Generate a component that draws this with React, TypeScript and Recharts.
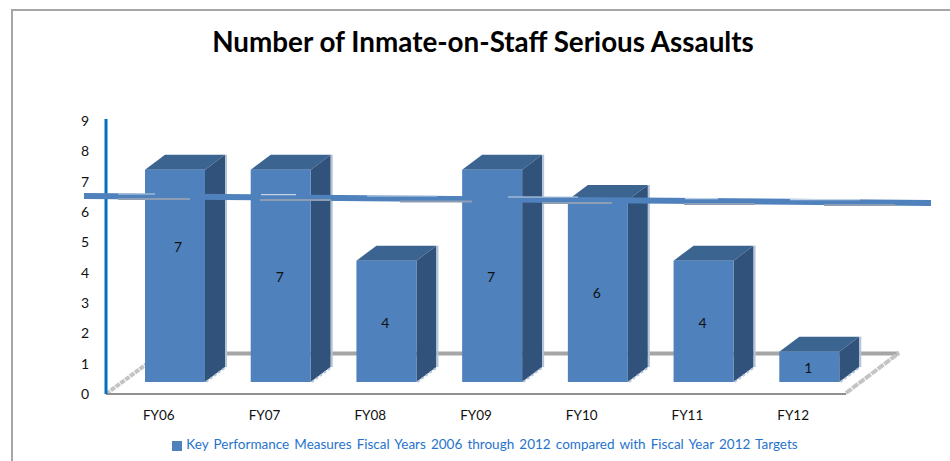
import { BarChart, Bar, XAxis, YAxis, Legend, LabelList } from "recharts";

const categories = ["FY06", "FY07", "FY08", "FY09", "FY10", "FY11", "FY12"];
const assaults = [7, 7, 4, 7, 6, 4, 1];
const yTicks = [0, 1, 2, 3, 4, 5, 6, 7, 8, 9];
// the target line leans a little in the original, so it has a start and an end level
const targetLevels = [6.53, 6.3];

const data = categories.map((name, i) => ({ name, assaults: assaults[i] }));

const TITLE = "Number of Inmate-on-Staff Serious Assaults";
const LEGEND = "Key Performance Measures Fiscal Years 2006 through 2012 compared with Fiscal Year 2012 Targets";

const W = 950;
const H = 461;
const PLOT_TOP = 121;
const PLOT_BOTTOM = 394;
const PLOT_LEFT = 106;
const PLOT_RIGHT = 846;
const YMAX = 9;

// fake 3d
const SHIFT_X = 16;
const SHIFT_Y = -12;
const DEPTH_X = 20;
const DEPTH_Y = -15;

const FRONT = "#4f81bd";
const TOP = "#3c6491";
const SIDE = "#31527a";
const EDGE = "#b3c3d8";
const FLOOR = "#a6a6a6";

const valueY = (v: number) => PLOT_BOTTOM - ((PLOT_BOTTOM - PLOT_TOP) * v) / YMAX;

function Bar3D(props: any) {
  const x = props.x + SHIFT_X;
  const y = props.y + SHIFT_Y;
  const w = props.width;
  const h = props.height;
  const r = x + w;
  const b = y + h;
  return (
    <g>
      <polygon points={`${x},${y} ${r},${y} ${r + DEPTH_X},${y + DEPTH_Y} ${x + DEPTH_X},${y + DEPTH_Y}`} fill={TOP} />
      <polygon points={`${r},${y} ${r + DEPTH_X},${y + DEPTH_Y} ${r + DEPTH_X},${b + DEPTH_Y} ${r},${b}`} fill={SIDE} />
      <line x1={r + DEPTH_X + 1} y1={y + DEPTH_Y} x2={r + DEPTH_X + 1} y2={b + DEPTH_Y} stroke={EDGE} strokeWidth={2} />
      <line x1={r + 1} y1={b} x2={r + DEPTH_X + 1} y2={b + DEPTH_Y} stroke={EDGE} strokeWidth={2} strokeDasharray="3 2" />
      <rect x={x} y={y} width={w} height={h} fill={FRONT} />
    </g>
  );
}

function BarValue(props: any) {
  const { x, y, width, height, value, index } = props;
  // first label sits higher than the rest in the source picture
  const nudge = index === 0 ? -30 : 0;
  const nudgeX = index === 0 ? 3 : -1;
  return (
    <text
      x={x + SHIFT_X + width / 2 + nudgeX}
      y={y + SHIFT_Y + height / 2 + nudge + 1}
      textAnchor="middle"
      dominantBaseline="central"
      fontSize={14}
      fill="#111"
      fontFamily="Lato"
    >
      {value}
    </text>
  );
}

function Floor() {
  return (
    <g>
      <line x1={180} y1={353.5} x2={899} y2={353.5} stroke={FLOOR} strokeWidth={4} />
      <line x1={PLOT_LEFT} y1={394} x2={PLOT_LEFT + 42} y2={363} stroke="#c4c4c4" strokeWidth={4} strokeDasharray="5 1" />
      <line x1={PLOT_RIGHT} y1={393} x2={899} y2={353} stroke="#c4c4c4" strokeWidth={4} strokeDasharray="7 1" />
      <line x1={PLOT_LEFT} y1={394} x2={PLOT_RIGHT} y2={394} stroke="#909090" strokeWidth={2} />
      <line x1={PLOT_LEFT} y1={119} x2={PLOT_LEFT} y2={394} stroke="#0070c0" strokeWidth={3} />
    </g>
  );
}

// separate svg on top, bars would otherwise cover the line
function TargetLine() {
  return (
    <svg width={W} height={H} style={{ position: "absolute", left: 0, top: 0, pointerEvents: "none" }}>
      <line x1={84} y1={valueY(targetLevels[0])} x2={931} y2={valueY(targetLevels[1])} stroke={FRONT} strokeWidth={6} />
      <g stroke="#c3d3e6" strokeWidth={1.2}>
        <line x1={118} y1={194} x2={155} y2={194} />
        <line x1={261} y1={194.6} x2={296} y2={194.6} />
        <line x1={367} y1={196} x2={437} y2={196} />
        <line x1={508} y1={197} x2={578} y2={197} />
        <line x1={685} y1={198.6} x2={718} y2={198.6} />
        <line x1={790} y1={199.6} x2={860} y2={199.6} />
      </g>
      <g stroke="#8d9db3" strokeWidth={2}>
        <line x1={118} y1={199} x2={190} y2={199} />
        <line x1={260} y1={200} x2={331} y2={200} />
        <line x1={400} y1={201.5} x2={472} y2={201.5} />
        <line x1={542} y1={203} x2={612} y2={203} />
        <line x1={684} y1={204} x2={755} y2={204} />
        <line x1={824} y1={205} x2={895} y2={205} />
      </g>
    </svg>
  );
}

export default function App() {
  return (
    <div style={{ position: "absolute", left: 0, top: 0, width: W, height: H, background: "#fff", overflow: "hidden" }}>
      <div
        style={{
          position: "absolute",
          left: 11,
          top: 9,
          width: W,
          height: H,
          borderLeft: "2px solid #a6a6a6",
          borderTop: "2px solid #a6a6a6",
        }}
      />
      <BarChart
        width={W}
        height={H}
        data={data}
        margin={{ top: PLOT_TOP, right: W - PLOT_RIGHT, left: PLOT_LEFT - 30, bottom: 21 }}
        style={{ position: "absolute", left: 0, top: 0 }}
      >
        <text x={483} y={52} textAnchor="middle" fontFamily="Lato" fontWeight={700} fontSize={27.8} fill="#000">
          {TITLE}
        </text>
        <Floor />
        <XAxis
          dataKey="name"
          axisLine={false}
          tickLine={false}
          height={30}
          tickMargin={10}
          tick={{ fontSize: 13.5, fontFamily: "Lato", fill: "#111" }}
        />
        <YAxis
          width={30}
          domain={[0, YMAX]}
          ticks={yTicks}
          interval={0}
          axisLine={false}
          tickLine={false}
          tickMargin={11}
          tick={{ fontSize: 14, fontFamily: "Lato", fill: "#111" }}
        />
        <Legend
          verticalAlign="bottom"
          iconType="square"
          iconSize={10}
          wrapperStyle={{ fontFamily: "Lato", fontSize: 13.5, wordSpacing: 1.7, bottom: 9, left: 105 }}
          formatter={(value) => <span style={{ color: "#2673cc" }}>{value}</span>}
        />
        <Bar
          dataKey="assaults"
          name={LEGEND}
          fill={FRONT}
          barSize={60}
          shape={<Bar3D />}
          isAnimationActive={false}
        >
          <LabelList dataKey="assaults" content={<BarValue />} />
        </Bar>
      </BarChart>
      <TargetLine />
    </div>
  );
}
